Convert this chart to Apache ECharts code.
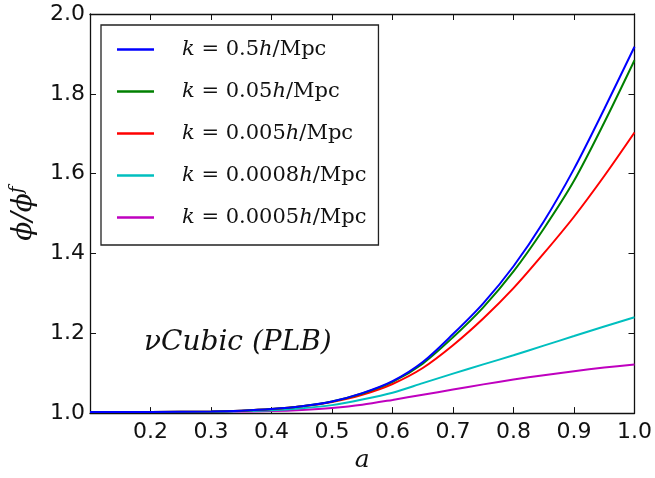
<!DOCTYPE html>
<html>
<head>
<meta charset="utf-8">
<script src="https://cdn.jsdelivr.net/npm/echarts@6/dist/echarts.min.js"></script>
<style>
html,body{margin:0;padding:0;background:#fff;}
#chart{width:655px;height:478px;}
</style>
</head>
<body>
<div id="chart"></div>
<script>
var aValues = [0.1, 0.2, 0.3, 0.35, 0.4, 0.45, 0.5, 0.55, 0.6, 0.65, 0.7, 0.75, 0.8, 0.85, 0.9, 0.95, 1.0];
var kLabels = ['0.5', '0.05', '0.005', '0.0008', '0.0005'];
var phiK05    = [1.003, 1.003, 1.004, 1.006, 1.010, 1.017, 1.029, 1.050, 1.080, 1.128, 1.198, 1.275, 1.368, 1.480, 1.612, 1.762, 1.918];
var phiK005   = [1.003, 1.003, 1.004, 1.006, 1.010, 1.017, 1.029, 1.049, 1.078, 1.124, 1.190, 1.265, 1.355, 1.462, 1.582, 1.728, 1.884];
var phiK0005  = [1.003, 1.003, 1.004, 1.006, 1.010, 1.017, 1.028, 1.046, 1.073, 1.113, 1.170, 1.237, 1.313, 1.400, 1.492, 1.594, 1.703];
var phiK00008 = [1.003, 1.003, 1.003, 1.005, 1.007, 1.012, 1.020, 1.034, 1.051, 1.075, 1.099, 1.122, 1.145, 1.169, 1.193, 1.217, 1.240];
var phiK00005 = [1.003, 1.003, 1.003, 1.004, 1.005, 1.008, 1.013, 1.021, 1.033, 1.046, 1.059, 1.072, 1.084, 1.095, 1.105, 1.114, 1.122];
var seriesValues = [phiK05, phiK005, phiK0005, phiK00008, phiK00005];
var seriesColors = ['#0000ff', '#008000', '#ff0000', '#00bfbf', '#bf00bf'];
var xTicks = [0.2, 0.3, 0.4, 0.5, 0.6, 0.7, 0.8, 0.9, 1.0];
var yTicks = [1.0, 1.2, 1.4, 1.6, 1.8, 2.0];
var annotation = 'νCubic (PLB)';

var names = kLabels.map(function (k) { return 'k = ' + k + 'h/Mpc'; });

var chart = echarts.init(document.getElementById('chart'), null, {renderer: 'canvas'});
var frame = {show: true, lineStyle: {color: '#111', width: 1.3}};
var serif = 'DejaVu Serif';
var tickFont = {fontFamily: 'DejaVu Sans', fontSize: 22, color: '#111'};

var option = {
  animation: false,
  backgroundColor: '#fff',
  grid: {left: 89, right: 17, top: 14, bottom: 45, containLabel: false},
  legend: {
    orient: 'vertical',
    left: 101, top: 25,
    padding: [14, 12, 17, 16],
    itemGap: 21,
    itemWidth: 37, itemHeight: 2.5,
    icon: 'rect',
    borderColor: '#222', borderWidth: 1.3,
    backgroundColor: '#fff',
    data: names,
    formatter: function (name) {
      var idx = names.indexOf(name);
      return '{i|k}{n| = ' + kLabels[idx] + '}{i|h}{n|/Mpc}';
    },
    textStyle: {
      padding: [0, 0, 0, 23],
      rich: {
        i: {fontFamily: serif, fontStyle: 'italic', fontSize: 21, color: '#111', lineHeight: 24},
        n: {fontFamily: serif, fontSize: 21, color: '#111', lineHeight: 24}
      }
    }
  },
  graphic: [{
    type: 'text', left: 144, top: 329, z: 10,
    style: {text: annotation, fontFamily: serif, fontStyle: 'italic', fontSize: 28, fill: '#111'}
  }],
  xAxis: [{
    type: 'value', min: 0.1, max: 1.0, interval: 0.1, position: 'bottom',
    axisLine: frame,
    axisTick: {show: true, inside: true, length: 6, lineStyle: {color: '#111'}},
    splitLine: {show: false},
    axisLabel: Object.assign({margin: 8, formatter: function (v) {
      var r = Math.round(v * 10) / 10;
      return xTicks.indexOf(r) >= 0 ? r.toFixed(1) : '';
    }}, tickFont),
    name: 'a', nameLocation: 'middle', nameGap: 31,
    nameTextStyle: {fontFamily: serif, fontStyle: 'italic', fontSize: 25, color: '#111', verticalAlign: 'middle', align: 'center'}
  }, {
    type: 'value', min: 0.1, max: 1.0, interval: 0.1, position: 'top',
    axisLine: frame,
    axisTick: {show: true, inside: true, length: 6, lineStyle: {color: '#111'}},
    splitLine: {show: false}, axisLabel: {show: false}
  }],
  yAxis: [{
    type: 'value', min: 1.0, max: 2.0, interval: 0.2, position: 'left',
    axisLine: frame,
    axisTick: {show: true, inside: true, length: 6, lineStyle: {color: '#111'}},
    splitLine: {show: false},
    axisLabel: Object.assign({margin: 5, formatter: function (v) {
      var r = Math.round(v * 10) / 10;
      return yTicks.indexOf(r) >= 0 ? r.toFixed(1) : '';
    }}, tickFont),
    name: '{a|ϕ/ϕ}{s|f}', nameLocation: 'middle', nameGap: 50, nameRotate: 90,
    nameTextStyle: {
      rich: {
        a: {fontFamily: serif, fontStyle: 'italic', fontSize: 28, color: '#111', lineHeight: 32},
        s: {fontFamily: serif, fontStyle: 'italic', fontSize: 18, color: '#111', lineHeight: 32, verticalAlign: 'top'}
      }
    }
  }, {
    type: 'value', min: 1.0, max: 2.0, interval: 0.2, position: 'right',
    axisLine: frame,
    axisTick: {show: true, inside: true, length: 6, lineStyle: {color: '#111'}},
    splitLine: {show: false}, axisLabel: {show: false}
  }],
  series: seriesValues.map(function (vals, i) {
    return {
      name: names[i], type: 'line',
      xAxisIndex: 0, yAxisIndex: 0,
      data: vals.map(function (v, j) { return [aValues[j], v]; }),
      showSymbol: false, symbol: 'none',
      smooth: 0.3,
      lineStyle: {color: seriesColors[i], width: 2},
      itemStyle: {color: seriesColors[i]},
      z: 5 - i
    };
  })
};
chart.setOption(option);
</script>
</body>
</html>
